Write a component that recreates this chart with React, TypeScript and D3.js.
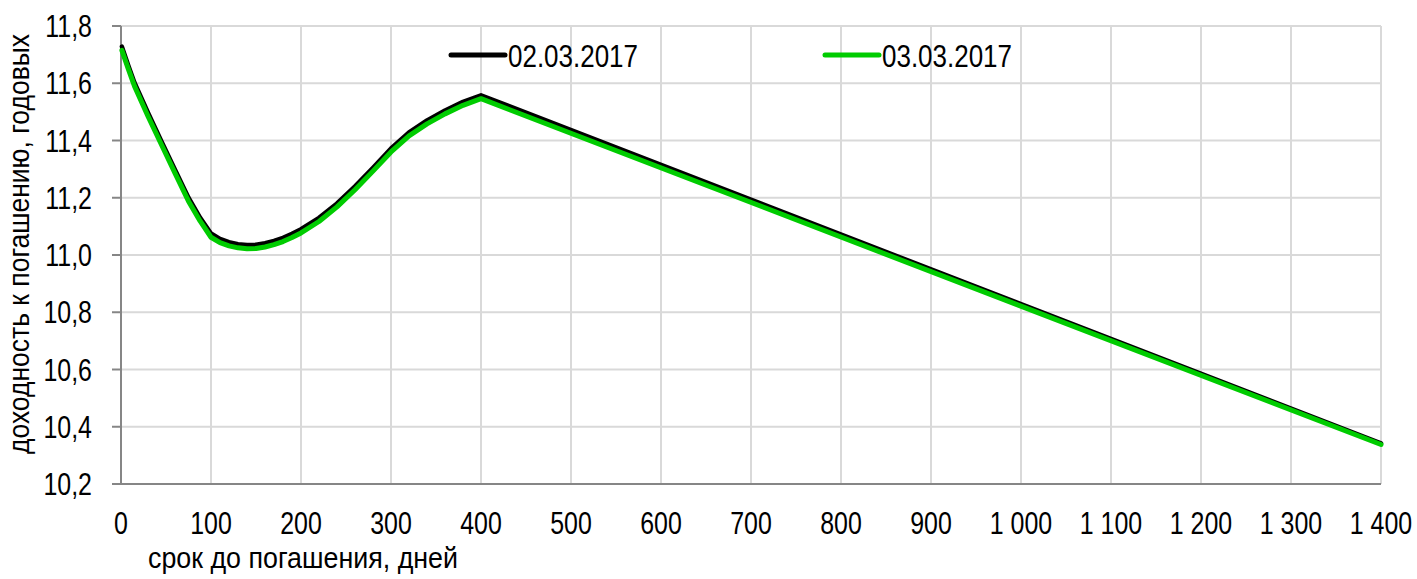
import React from "react";
import * as d3 from "d3";

const days = [1, 8, 15, 30, 45, 60, 75, 88, 100, 110, 120, 130, 140, 150, 160, 170, 180, 190, 200, 220, 240, 260, 280, 300, 320, 340, 360, 380, 400, 1400];
const yield0203 = [11.728, 11.663, 11.602, 11.497, 11.397, 11.298, 11.2, 11.13, 11.075, 11.056, 11.045, 11.038, 11.035, 11.036, 11.041, 11.049, 11.06, 11.074, 11.09, 11.13, 11.18, 11.24, 11.305, 11.372, 11.428, 11.47, 11.505, 11.535, 11.558, 10.342];
const yield0303 = [11.715, 11.651, 11.59, 11.485, 11.385, 11.286, 11.188, 11.118, 11.062, 11.043, 11.032, 11.025, 11.022, 11.023, 11.028, 11.036, 11.047, 11.061, 11.077, 11.117, 11.168, 11.228, 11.293, 11.36, 11.416, 11.458, 11.493, 11.523, 11.546, 10.338];
const xTicks = [0, 100, 200, 300, 400, 500, 600, 700, 800, 900, 1000, 1100, 1200, 1300, 1400];
const yTicks = [10.2, 10.4, 10.6, 10.8, 11.0, 11.2, 11.4, 11.6, 11.8];
const seriesNames = ["02.03.2017", "03.03.2017"];
const seriesColors = ["#000000", "#00cc00"];
const xTitle = "срок до погашения, дней";
const yTitle = "доходность к погашению, годовых";

const FONT = '"Liberation Sans", Arial, sans-serif';
const SX = 0.78;

function NText(props: { x: number; y: number; anchor?: string; size: number; children: React.ReactNode }) {
  return (
    <g transform={`translate(${props.x},${props.y}) scale(${SX},1)`}>
      <text x={0} y={0} textAnchor={props.anchor || "start"} fontSize={props.size} fill="#000">
        {props.children}
      </text>
    </g>
  );
}

export default function App() {
  const W = 1417, H = 579;
  const x = d3.scaleLinear().domain([0, 1400]).range([121, 1381]);
  const y = d3.scaleLinear().domain([10.2, 11.8]).range([484, 26]);
  const fmtX = (v: number) => (v >= 1000 ? `${Math.floor(v / 1000)} ${String(v % 1000).padStart(3, "0")}` : String(v));
  const fmtY = (v: number) => v.toFixed(1).replace(".", ",");
  const line = d3.line<number>().x((_, i) => x(days[i])).y((d) => y(d)).curve(d3.curveLinear);
  const series = [yield0203, yield0303];

  return (
    <svg width={W} height={H} style={{ position: "absolute", left: 0, top: 0, background: "#fff" }} fontFamily={FONT}>
      <rect x={0} y={0} width={W} height={H} fill="#fff" />
      {yTicks.map((t) => (
        <line key={"gy" + t} x1={x(0)} x2={x(1400)} y1={y(t)} y2={y(t)} stroke="#d9d9d9" strokeWidth={2} />
      ))}
      {xTicks.map((t) => (
        <line key={"gx" + t} x1={x(t)} x2={x(t)} y1={y(11.8)} y2={y(10.2)} stroke="#d9d9d9" strokeWidth={2} />
      ))}
      <line x1={x(0)} x2={x(0)} y1={y(11.8)} y2={y(10.2)} stroke="#868686" strokeWidth={2} />
      <line x1={112} x2={x(1400)} y1={y(10.2)} y2={y(10.2)} stroke="#868686" strokeWidth={2} />
      {yTicks.map((t) => (
        <line key={"ty" + t} x1={112} x2={x(0)} y1={y(t)} y2={y(t)} stroke="#868686" strokeWidth={2} />
      ))}
      {yTicks.map((t) => (
        <NText key={"ly" + t} x={92} y={y(t) + 11} anchor="end" size={32}>
          {fmtY(t)}
        </NText>
      ))}
      {xTicks.map((t) => (
        <NText key={"lx" + t} x={x(t)} y={534} anchor="middle" size={32}>
          {fmtX(t)}
        </NText>
      ))}
      <text x={148} y={568} fontSize={30} fill="#000" textLength={310} lengthAdjust="spacingAndGlyphs">{xTitle}</text>
      <text transform={`translate(29,244) rotate(-90)`} textAnchor="middle" fontSize={30} fill="#000" textLength={420} lengthAdjust="spacingAndGlyphs">{yTitle}</text>
      {series.map((s, k) => (
        <path key={"s" + k} d={line(s) || ""} fill="none" stroke={seriesColors[k]} strokeWidth={k === 0 ? 4.5 : 5} strokeLinejoin="round" strokeLinecap="round" />
      ))}
      {seriesNames.map((n, k) => {
        const lx = k === 0 ? 451 : 825;
        return (
          <g key={"lg" + k}>
            <line x1={lx} x2={lx + 54} y1={55} y2={55} stroke={seriesColors[k]} strokeWidth={5} strokeLinecap="round" />
            <text x={lx + 57} y={67} fontSize={32} fill="#000" textLength={130} lengthAdjust="spacingAndGlyphs">{n}</text>
          </g>
        );
      })}
    </svg>
  );
}
